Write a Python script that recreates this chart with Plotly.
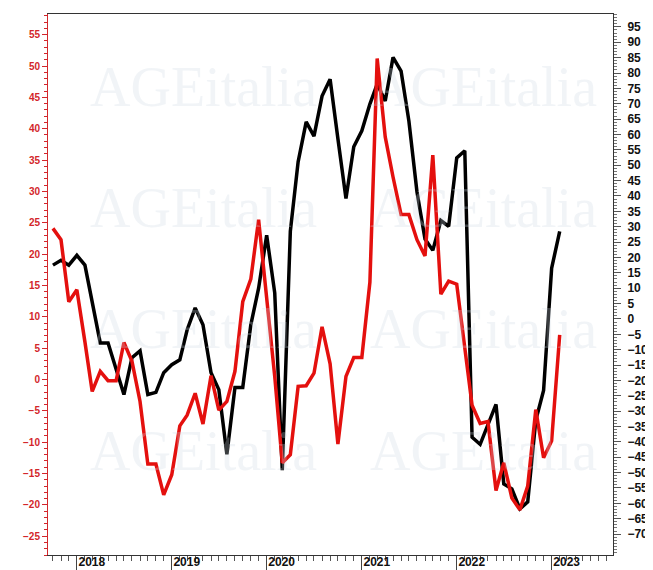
import plotly.graph_objects as go
import pandas as pd

# monthly observations, Oct 2017 .. Feb 2023
months = pd.date_range("2017-10-01", periods=65, freq="MS")

red_values = [
    24.1, 22.3, 12.4,
    14.3, 6.0, -1.9, 1.3, -0.2, -0.2, 5.9, 2.9, -3.5, -13.5, -13.5, -18.4,
    -15.2, -7.4, -5.7, -2.2, -7.1, 0.6, -4.9, -3.5, 1.3, 12.4, 16.0, 25.5,
    13.0, 0.5, -13.3, -12.0, -1.1, -1.0, 1.0, 8.4, 2.5, -10.3, 0.5, 3.5,
    3.5, 15.5, 51.2, 38.7, 32.3, 26.3, 26.3, 22.3, 19.7, 35.8, 13.6, 15.7,
    15.2, 5.5, -4.1, -7.0, -6.7, -17.7, -13.3, -18.9, -20.8, -17.0, -4.8, -12.5,
    -9.8, 7.1,
]

black_values = [
    17.5, 19.1, 17.5,
    20.7, 17.5, 5.2, -7.8, -7.8, -15.9, -24.6, -12.6, -10.4, -24.6, -23.9, -17.5,
    -14.9, -13.3, -3.6, 3.6, -1.9, -17.5, -23.0, -44.0, -22.3, -22.3, -1.9, 10.0,
    27.2, 8.5, -49.2, 28.5, 51.1, 64.1, 59.5, 72.5, 78.0, 58.6, 39.2, 56.0,
    61.2, 69.9, 76.4, 70.9, 85.1, 80.6, 64.4, 41.4, 26.0, 22.3, 32.0, 30.1,
    52.4, 54.7, -38.5, -40.8, -34.3, -27.8, -53.7, -55.3, -61.8, -59.5, -33.0, -23.3,
    16.5, 28.5,
]

left_ticks = list(range(-25, 60, 5))
right_ticks = list(range(-70, 100, 5))

RED = "#e4100e"
RED_TXT = "#d3262b"

fig = go.Figure()

# black series on right axis (base), red series on left axis (overlay, drawn on top)
fig.add_trace(go.Scatter(x=months, y=black_values, yaxis="y", mode="lines",
                         line=dict(color="#000000", width=3.5), showlegend=False))
fig.add_trace(go.Scatter(x=months, y=red_values, yaxis="y2", mode="lines",
                         line=dict(color=RED, width=3.5), showlegend=False))

W, H = 653, 570
L, R, T, B = 40, 48, 5, 21
pw, ph = W - L - R, H - T - B


def px(xp):
    return (xp - L) / pw


def py(yp):
    return 1 - (yp - T) / ph


annotations = []
for yy in [78, 200, 322, 444]:
    for xx in [195, 475]:
        annotations.append(dict(
            text="AGEitalia", x=px(xx), y=py(yy), xref="paper", yref="paper",
            showarrow=False, xanchor="center", yanchor="middle",
            font=dict(family="Liberation Serif", size=56, color="rgba(205,214,228,0.28)"),
        ))

fig.update_layout(
    width=W, height=H,
    margin=dict(l=L, r=R, t=T, b=B),
    paper_bgcolor="white",
    plot_bgcolor="rgba(0,0,0,0)",
    annotations=annotations,
    xaxis=dict(
        type="date",
        range=["2017-09-12", "2023-08-25"],
        tickmode="linear", tick0="2018-01-01", dtick="M12", tickformat="%Y",
        ticks="outside", ticklen=18, tickwidth=1, tickcolor="#444",
        minor=dict(tickmode="linear", tick0="2017-10-01", dtick="M1",
                   ticks="outside", ticklen=5, tickcolor="#555", tickwidth=1),
        tickfont=dict(family="Liberation Sans", size=12, color="#111", weight="bold"),
        ticklabelshift=15, ticklabelstandoff=-22,
        showline=True, linecolor="#333", linewidth=1, mirror=True,
        showgrid=False, zeroline=False,
    ),
    yaxis=dict(
        side="right",
        range=[-76.8, 99.2],
        tickmode="array", tickvals=right_ticks,
        ticks="outside", ticklen=7, tickcolor="#555", tickwidth=1,
        minor=dict(tickmode="linear", tick0=0, dtick=1, ticks="outside",
                   ticklen=3, tickcolor="#777", tickwidth=1),
        tickfont=dict(family="Liberation Sans", size=12, color="#111", weight="bold"),
        ticklabelstandoff=4,
        showline=True, linecolor="#333", linewidth=1,
        showgrid=False, zeroline=False,
    ),
    yaxis2=dict(
        overlaying="y", side="left",
        range=[-28.0, 58.3],
        tickmode="array", tickvals=left_ticks,
        ticks="outside", ticklen=5, tickcolor=RED_TXT, tickwidth=1,
        minor=dict(tickmode="linear", tick0=0, dtick=1, ticks="outside",
                   ticklen=3, tickcolor=RED_TXT, tickwidth=1),
        tickfont=dict(family="Liberation Sans", size=10, color=RED_TXT, weight="bold"),
        showline=True, linecolor=RED_TXT, linewidth=1,
        showgrid=False, zeroline=False,
    ),
)

fig.write_html("out.html")
